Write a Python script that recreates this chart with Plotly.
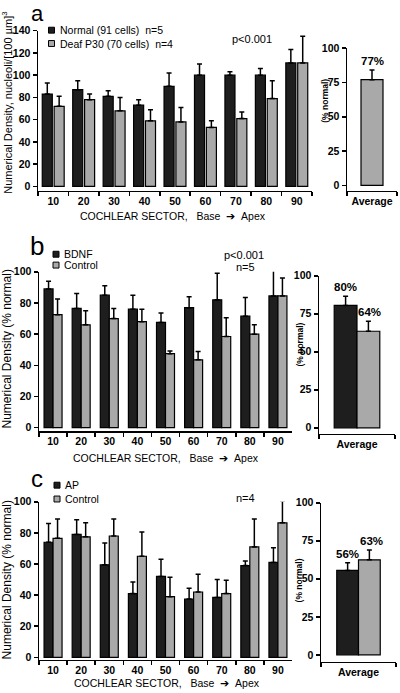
import plotly.graph_objects as go

# ---------------- data ----------------
sectors = ["10", "20", "30", "40", "50", "60", "70", "80", "90"]
avg_cat = ["Average"]

# panel a
normal = [83, 87, 81, 73, 90, 100, 100, 100, 111]
normal_err = [10, 8, 5, 5, 12, 10, 3, 6, 12]
deaf = [72, 78, 68, 59, 58, 53, 61, 79, 111]
deaf_err = [9, 5, 12, 10, 13, 6, 6, 16, 24]
avg_a = [77]
avg_a_err = [7]
avg_a_lbl = ["77%"]

# panel b
bdnf = [89, 76.5, 85, 76, 67.5, 77, 82, 71.5, 84.5]
bdnf_err = [5, 9.5, 6, 9, 6, 7, 17, 12, 17]
ctrl_b = [72.5, 66, 70, 68, 47.5, 43.5, 58.5, 60, 84.5]
ctrl_b_err = [10, 9, 6.5, 8, 1.7, 5.3, 12, 6, 11.5]
avg_b_bdnf, avg_b_ctrl = [80.5], [63.5]
avg_b_bdnf_err, avg_b_ctrl_err = [6], [6.5]
avg_b_lbl = ["80%", "64%"]

# panel c
ap = [74, 79, 59.5, 41, 52, 37.5, 38.5, 59, 61]
ap_err = [12, 9.5, 14, 7.5, 11, 7, 11.5, 3, 9.5]
ctrl_c = [76.5, 77.5, 78, 65, 39, 42, 41, 71, 86.5]
ctrl_c_err = [12.5, 9, 11, 15.5, 12.5, 11.5, 8.5, 18, 14]
avg_c_ap, avg_c_ctrl = [55.5], [62.5]
avg_c_ap_err, avg_c_ctrl_err = [5], [6.5]
avg_c_lbl = ["56%", "63%"]

# ---------------- style ----------------
W, H = 400, 693
DARK = "#1e1e1e"
GRAY = "#a9a9a9"
FONT = "Liberation Sans"


def px(x):
    return x / W


def py(y):
    return 1 - y / H


def bar(x, y, err, color, xa, ya, offset, width):
    return go.Bar(
        x=x, y=y, xaxis=xa, yaxis=ya, offset=offset, width=width,
        marker=dict(color=color, line=dict(color="black", width=1.2)),
        error_y=dict(type="data", symmetric=False, array=err,
                     arrayminus=[0] * len(err), color="black",
                     thickness=1.5, width=2.5),
        showlegend=False, hoverinfo="skip",
    )


fig = go.Figure()
# panel a
fig.add_trace(bar(sectors, normal, normal_err, DARK, "x", "y", -0.36, 0.33))
fig.add_trace(bar(sectors, deaf, deaf_err, GRAY, "x", "y", 0.03, 0.33))
fig.add_trace(bar(avg_cat, avg_a, avg_a_err, GRAY, "x2", "y2", -0.22, 0.44))
# panel b
fig.add_trace(bar(sectors, bdnf, bdnf_err, DARK, "x3", "y3", -0.32, 0.32))
fig.add_trace(bar(sectors, ctrl_b, ctrl_b_err, GRAY, "x3", "y3", 0.0, 0.32))
fig.add_trace(bar(avg_cat, avg_b_bdnf, avg_b_bdnf_err, DARK, "x4", "y4", -0.30, 0.30))
fig.add_trace(bar(avg_cat, avg_b_ctrl, avg_b_ctrl_err, GRAY, "x4", "y4", 0.0, 0.30))
# panel c
fig.add_trace(bar(sectors, ap, ap_err, DARK, "x5", "y5", -0.32, 0.32))
fig.add_trace(bar(sectors, ctrl_c, ctrl_c_err, GRAY, "x5", "y5", 0.0, 0.32))
fig.add_trace(bar(avg_cat, avg_c_ap, avg_c_ap_err, DARK, "x6", "y6", -0.29, 0.29))
fig.add_trace(bar(avg_cat, avg_c_ctrl, avg_c_ctrl_err, GRAY, "x6", "y6", 0.0, 0.29))

tickfont = dict(family=FONT, size=10.5, color="black", weight=700)


def xaxis(x0, x1, anchor, ncat):
    return dict(domain=[px(x0), px(x1)], anchor=anchor, type="category",
                range=[-0.5, ncat - 0.5], tickson="boundaries", tickangle=0,
                ticks="outside", ticklen=4, tickwidth=1.5, tickcolor="black",
                showline=True, linewidth=1.5, linecolor="black",
                showgrid=False, zeroline=False, tickfont=tickfont, fixedrange=True)


def yaxis(top, bottom, anchor, rng, tv):
    return dict(domain=[py(bottom), py(top)], anchor=anchor, range=rng,
                tickvals=tv, ticks="outside", ticklen=4, tickwidth=1.5,
                tickcolor="black", showline=True, linewidth=1.5,
                linecolor="black", showgrid=False, zeroline=False,
                tickfont=tickfont, fixedrange=True)


main_ticks_a = [0, 20, 40, 60, 80, 100, 120, 140]
main_ticks = [0, 20, 40, 60, 80, 100]
inset_ticks = [0, 25, 50, 75, 100]

fig.update_layout(
    width=W, height=H, margin=dict(l=0, r=0, t=0, b=0),
    paper_bgcolor="white", plot_bgcolor="white", barmode="overlay",
    xaxis=xaxis(38, 312, "y", 9),
    yaxis=yaxis(25, 187.3, "x", [-4, 140], main_ticks_a),
    xaxis2=xaxis(347, 397, "y2", 1),
    yaxis2=yaxis(42.7, 187.3, "x2", [-4, 100], inset_ticks),
    xaxis3=xaxis(39, 292, "y3", 9),
    yaxis3=yaxis(269.3, 430.7, "x3", [-2.2, 100], main_ticks),
    xaxis4=xaxis(319, 395, "y4", 1),
    yaxis4=yaxis(273.3, 433.5, "x4", [-4, 100], inset_ticks),
    xaxis5=xaxis(39, 292, "y5", 9),
    yaxis5=yaxis(502.3, 662.3, "x5", [-1.5, 100], main_ticks),
    xaxis6=xaxis(321, 396, "y6", 1),
    yaxis6=yaxis(503.3, 664.3, "x6", [-4.5, 100], inset_ticks),
)

ann = []


def text(x, y, s, size=11, bold=False, angle=0, xanchor="center", yanchor="middle"):
    ann.append(dict(x=px(x), y=py(y), xref="paper", yref="paper", text=s,
                    showarrow=False, textangle=angle, xanchor=xanchor,
                    yanchor=yanchor,
                    font=dict(family=FONT, size=size, color="black",
                              weight=700 if bold else 400)))


NB = "\u00a0"
# panel letters
text(37, 8, "a", size=22)
text(37, 243, "b", size=26)
text(37, 479, "c", size=24)

# y titles
text(7, 98, "Numerical Density, nucleoli/[100 µm]<sup>3</sup>", size=11, angle=-90)
text(7, 348, "Numerical Density (% normal)", size=12, angle=-90)
text(7, 582, "Numerical Density (% normal)", size=12, angle=-90)

# x titles
xt = "COCHLEAR SECTOR," + NB * 3 + "Base" + NB * 2 + "➔" + NB * 2 + "Apex"
text(173, 213, xt, size=10.5)
text(166, 458, xt, size=10.5)
text(167, 686, xt, size=10.5)

# inset y titles
text(325, 96, "(% normal)", size=8.5, bold=True, angle=-90)
text(300, 343, "(% normal)", size=8.5, bold=True, angle=-90)
text(299, 582, "(% normal)", size=8.5, bold=True, angle=-90)

# stats text
text(252, 33, "p&lt;0.001", size=11)
text(244, 252, "p&lt;0.001", size=11)
text(245, 264, "n=5", size=11)
text(245, 498, "n=4", size=11)

# legends (keys + labels)
legend_rows = [
    (51.5, 24.5, DARK, "Normal (91 cells)" + NB * 2 + "n=5"),
    (51.5, 38.0, GRAY, "Deaf P30 (70 cells)" + NB * 2 + "n=4"),
    (56.0, 251.5, DARK, "BDNF"),
    (56.0, 262.5, GRAY, "Control"),
    (57.0, 485.5, DARK, "AP"),
    (57.0, 499.5, GRAY, "Control"),
]
shapes = []
for (cx, cy, col, lbl) in legend_rows:
    s = 3
    shapes.append(dict(type="rect", xref="paper", yref="paper",
                       x0=px(cx - s), x1=px(cx + s), y0=py(cy + s), y1=py(cy - s),
                       fillcolor=col, line=dict(color="black", width=1)))
    text(cx + 6, cy, lbl, size=10.5, xanchor="left")


# inset value labels
def val_label(xa, ya, xpos, top, s):
    ann.append(dict(x=xpos, y=top, xref=xa, yref=ya, text=s, showarrow=False,
                    xanchor="center", yanchor="bottom", yshift=1,
                    font=dict(family=FONT, size=11.5, color="black", weight=700)))


val_label("x2", "y2", 0, avg_a[0] + avg_a_err[0], avg_a_lbl[0])
val_label("x4", "y4", -0.15, avg_b_bdnf[0] + avg_b_bdnf_err[0], avg_b_lbl[0])
val_label("x4", "y4", 0.17, avg_b_ctrl[0] + avg_b_ctrl_err[0], avg_b_lbl[1])
val_label("x6", "y6", -0.15, avg_c_ap[0] + avg_c_ap_err[0], avg_c_lbl[0])
val_label("x6", "y6", 0.17, avg_c_ctrl[0] + avg_c_ctrl_err[0], avg_c_lbl[1])

fig.update_layout(annotations=ann, shapes=shapes, hovermode=False)
fig.write_html(
    "out.html",
    config={"displayModeBar": False, "staticPlot": True},
    post_script="document.body.style.margin='0';document.body.style.padding='0';",
)
